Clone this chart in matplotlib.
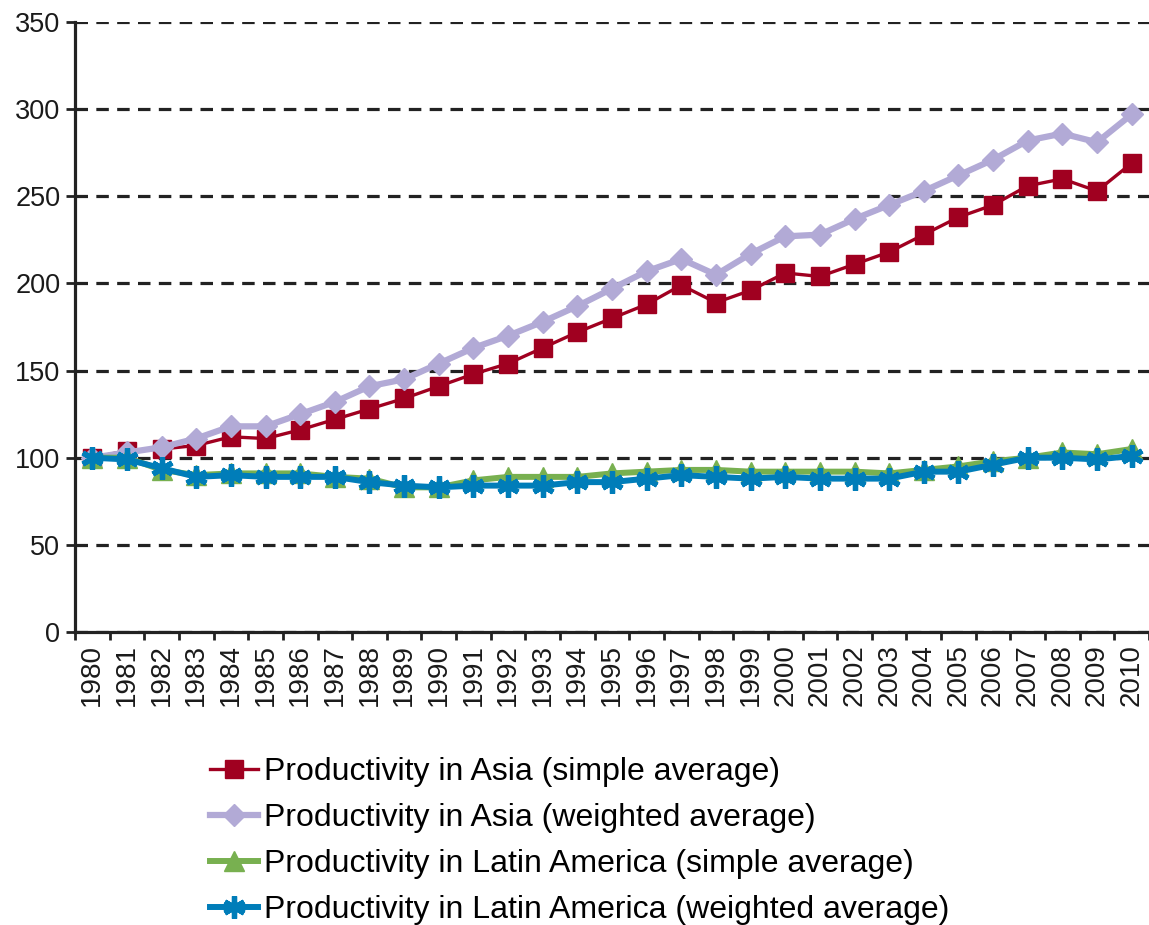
import matplotlib
matplotlib.use("Agg")
import matplotlib.pyplot as plt
import numpy as np

plt.rcParams['font.family'] = ['Liberation Sans', 'DejaVu Sans']
plt.rcParams['lines.scale_dashes'] = False

# data (index, 1980 = 100)
years = list(range(1980, 2011))
asia_simple = [100, 104, 105, 107, 112, 111, 116, 122, 128, 134, 141, 148, 154, 163, 172, 180,
               188, 199, 189, 196, 206, 204, 211, 218, 228, 238, 245, 256, 260, 253, 269]
asia_weighted = [100, 103, 106, 111, 118, 118, 125, 132, 141, 145, 154, 163, 170, 178, 187, 197,
                 207, 214, 205, 217, 227, 228, 237, 245, 253, 262, 271, 282, 286, 281, 297]
latam_simple = [100, 100, 93, 90, 91, 91, 91, 89, 88, 83, 83, 87, 89, 89, 89, 91,
                92, 93, 93, 92, 92, 92, 92, 91, 93, 95, 98, 100, 103, 102, 105]
latam_weighted = [100, 99, 94, 89, 90, 89, 89, 89, 86, 84, 83, 84, 84, 84, 86, 86,
                  88, 90, 89, 88, 89, 88, 88, 88, 92, 92, 96, 100, 100, 99, 101]
labels = ["Productivity in Asia (simple average)",
          "Productivity in Asia (weighted average)",
          "Productivity in Latin America (simple average)",
          "Productivity in Latin America (weighted average)"]

fig = plt.figure(figsize=(11.49, 9.25), dpi=100)
ax = fig.add_axes([75/1149, 1 - 632/925, 1 - 75/1149, (632 - 22)/925])

x = np.arange(len(years))
ax.plot(x, asia_simple, color='#A00020', lw=2.4, marker='s', ms=13, label=labels[0], zorder=3)
ax.plot(x, asia_weighted, color='#B2AAD6', lw=4.5, marker='D', ms=11, label=labels[1], zorder=4)
ax.plot(x, latam_simple, color='#78B050', lw=4.3, marker='^', ms=15, label=labels[2], zorder=5)
ax.plot(x, latam_weighted, color='#007DB9', lw=4.3, marker=(6, 2, 0), ms=16, mew=3.8,
        label=labels[3], zorder=6)

ax.set_xlim(-0.5, len(years) - 0.5)
ax.set_ylim(0, 350)
ax.set_yticks(range(0, 351, 50))
ax.yaxis.grid(True, color='#222222', lw=2.3, dashes=(9, 6))
ax.set_axisbelow(True)

ax.set_xticks(x)
ax.set_xticklabels([str(y) for y in years], rotation=90, fontsize=20, color='#1a1a1a')
ax.set_xticks(np.arange(len(years) + 1) - 0.5, minor=True)
ax.tick_params(axis='x', which='major', length=0, pad=9)
ax.tick_params(axis='x', which='minor', length=6, width=2, color='#222222', direction='out')
ax.tick_params(axis='y', length=6.5, width=2, color='#222222', pad=4, labelsize=19.5,
               labelcolor='#1a1a1a')

for s in ['top', 'right']:
    ax.spines[s].set_visible(False)
for s in ['left', 'bottom']:
    ax.spines[s].set_linewidth(2.3)
    ax.spines[s].set_color('#222222')

fig.legend(loc='upper left', bbox_to_anchor=(210/1149, 1 - 757/925), frameon=False,
           fontsize=23, handlelength=1.5, handletextpad=0.2, labelspacing=0.5,
           borderpad=0, borderaxespad=0)

fig.savefig('out.png', dpi=100)
